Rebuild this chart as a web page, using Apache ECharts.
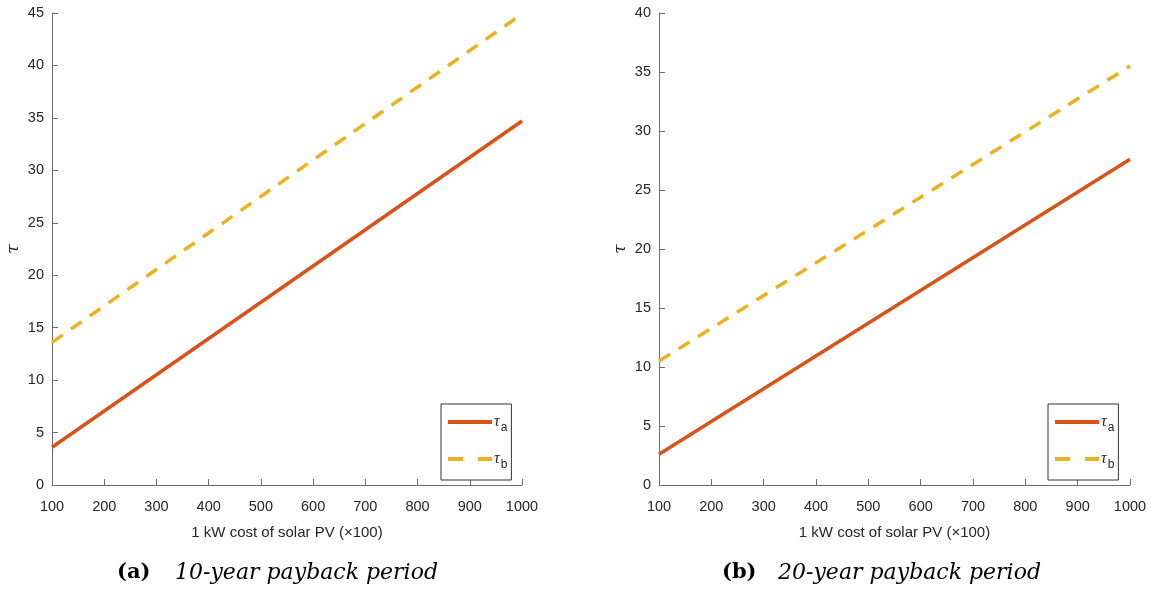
<!DOCTYPE html>
<html>
<head>
<meta charset="utf-8">
<script src="https://cdn.jsdelivr.net/npm/echarts@6/dist/echarts.min.js"></script>
<style>html,body{margin:0;padding:0;background:#fff}#c{width:1151px;height:592px}</style>
</head>
<body>
<div id="c"></div>
<script>
const costX = [100, 1000];
const tauA10 = [3.6, 34.7];
const tauB10 = [13.6, 44.9];
const tauA20 = [2.6, 27.6];
const tauB20 = [10.5, 35.5];
const xTicks = {min: 100, max: 1000, interval: 100};
const yTicks10 = {min: 0, max: 45, interval: 5};
const yTicks20 = {min: 0, max: 40, interval: 5};
const xTitle = '1 kW cost of solar PV (×100)';
const captions = [['(a)', '10-year payback period'], ['(b)', '20-year payback period']];

const colA = '#D95319', colB = '#EDB120';
const axisCol = '#6e6e6e', textCol = '#262626';
const sans = 'Liberation Sans, Arial, sans-serif';
const serif = 'DejaVu Serif, Liberation Serif, serif';
const serif2 = 'Liberation Serif, DejaVu Serif, serif';

function pairs(xs, ys) { return xs.map((x, i) => [x, ys[i]]); }

function xAxis(gi) {
  return {
    type: 'value', gridIndex: gi, min: xTicks.min, max: xTicks.max, interval: xTicks.interval,
    name: xTitle, nameLocation: 'middle', nameGap: 40,
    nameTextStyle: {color: textCol, fontFamily: sans, fontSize: 15},
    axisLine: {show: true, lineStyle: {color: axisCol, width: 1}},
    axisTick: {show: true, inside: true, length: 6, lineStyle: {color: axisCol}},
    axisLabel: {color: textCol, fontFamily: sans, fontSize: 14.5, margin: 14, formatter: v => String(v)},
    splitLine: {show: false}
  };
}
function yAxis(gi, t) {
  return {
    type: 'value', gridIndex: gi, min: t.min, max: t.max, interval: t.interval,
    name: 'τ', nameLocation: 'middle', nameGap: 30, nameRotate: 90,
    nameTextStyle: {color: textCol, fontFamily: serif, fontStyle: 'italic', fontSize: 17},
    axisLine: {show: true, lineStyle: {color: axisCol, width: 1}},
    axisTick: {show: true, inside: true, length: 6, lineStyle: {color: axisCol}},
    axisLabel: {color: textCol, fontFamily: sans, fontSize: 14.5, margin: 8, formatter: v => String(v)},
    splitLine: {show: false}
  };
}
function line(name, gi, data, color, dashed) {
  return {
    name: name, type: 'line', xAxisIndex: gi, yAxisIndex: gi, data: data,
    symbol: 'none', silent: true, animation: false,
    lineStyle: {color: color, width: 3.5, type: dashed ? [13, 10] : 'solid', cap: 'butt'},
    itemStyle: {color: color}
  };
}
function legend(left) {
  return {
    orient: 'vertical', left: left, top: 404,
    data: [
      {name: 'τa', itemStyle: {opacity: 0}, lineStyle: {color: colA, width: 4, type: 'solid'}},
      {name: 'τb', itemStyle: {opacity: 0}, lineStyle: {color: colB, width: 4, type: [15, 15]}}
    ],
    itemWidth: 44, itemHeight: 14, itemGap: 17,
    padding: [10, 4, 9, 5], borderColor: '#333', borderWidth: 1, backgroundColor: '#fff',
    selectedMode: false,
    formatter: n => '{t|τ}{s|' + n.slice(1) + '}',
    textStyle: {
      color: textCol, padding: [0, 0, 0, -3],
      rich: {
        t: {fontFamily: serif2, fontStyle: 'italic', fontSize: 16, color: textCol},
        s: {fontFamily: sans, fontSize: 12, color: textCol, padding: [12, 0, 0, 1]}
      }
    }
  };
}

const chart = echarts.init(document.getElementById('c'), null, {renderer: 'canvas'});
chart.setOption({
  animation: false,
  backgroundColor: '#fff',
  grid: [
    {left: 52, right: 629, top: 13, bottom: 107},
    {left: 659, right: 21, top: 13, bottom: 107}
  ],
  xAxis: [xAxis(0), xAxis(1)],
  yAxis: [yAxis(0, yTicks10), yAxis(1, yTicks20)],
  legend: [legend(441), legend(1048)],
  series: [
    line('τa', 0, pairs(costX, tauA10), colA, false),
    line('τb', 0, pairs(costX, tauB10), colB, true),
    line('τa', 1, pairs(costX, tauA20), colA, false),
    line('τb', 1, pairs(costX, tauB20), colB, true)
  ],
  graphic: [
    {type: 'text', left: 117, top: 562, style: {text: captions[0][0], font: 'bold 21px ' + serif, fill: '#000'}},
    {type: 'text', left: 175, top: 562, style: {text: captions[0][1], font: 'italic 22px ' + serif, fill: '#000'}},
    {type: 'text', left: 722, top: 562, style: {text: captions[1][0], font: 'bold 21px ' + serif, fill: '#000'}},
    {type: 'text', left: 778, top: 562, style: {text: captions[1][1], font: 'italic 22px ' + serif, fill: '#000'}}
  ]
});
</script>
</body>
</html>
